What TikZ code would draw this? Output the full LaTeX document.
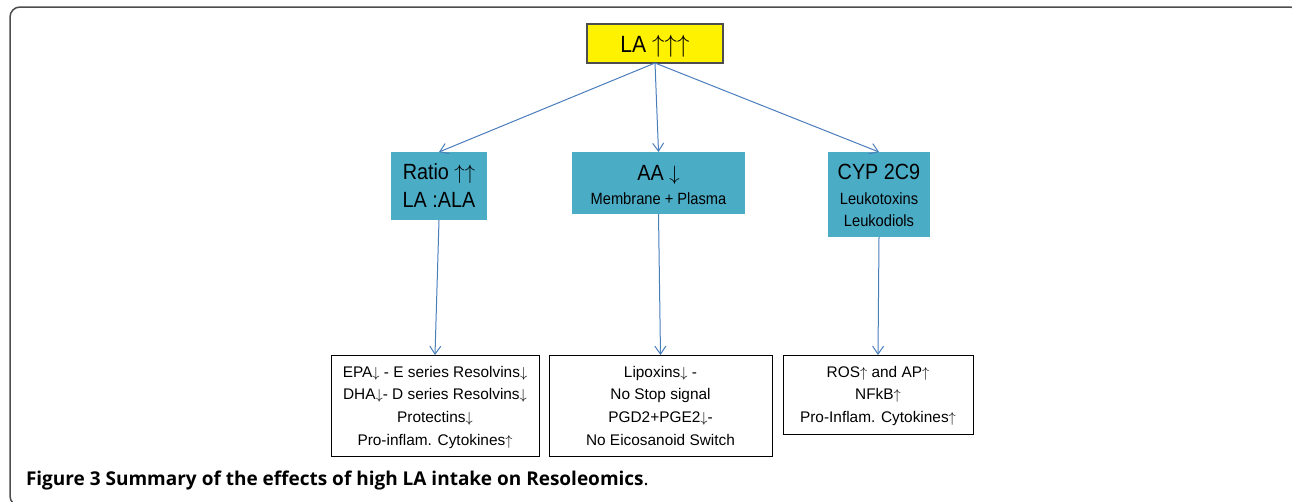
\documentclass[tikz,border=0pt]{standalone}
\usepackage{fontspec}
\usetikzlibrary{arrows.meta}
\newfontfamily\dfont[FakeStretch=0.9]{Liberation Sans}
\newfontfamily\lfont{Liberation Sans}
\newfontfamily\capfont{Open Sans}
\definecolor{tealbox}{HTML}{4BACC6}
\definecolor{arrowblue}{HTML}{4A7EBB}
\definecolor{framegray}{HTML}{4D4D4D}
\newcommand{\up}{$\uparrow$}
\newcommand{\dn}{$\downarrow$}
\tikzset{
  every node/.style={inner sep=0pt, outer sep=0pt},
  yellowbox/.style={draw=framegray, line width=1.3pt, fill=yellow},
  tbox/.style={fill=tealbox},
  wbox/.style={draw=black, line width=0.9pt, fill=white},
  bigtxt/.style={anchor=base, align=center, font=\dfont\fontsize{22}{28.3}\selectfont},
  smtxt/.style={anchor=base, align=center, font=\dfont\fontsize{16.3}{22.4}\selectfont},
  lowtxt/.style={anchor=base, align=center, font=\lfont\fontsize{15.4}{22.7}\selectfont},
  conn/.style={draw=arrowblue, line width=1pt, -{Straight Barb[length=8pt,width=11pt]}},
}
\begin{document}
\begin{tikzpicture}[x=1pt,y=-1pt]
\useasboundingbox (0,0) rectangle (1292,501);
\begin{scope}
\clip (0,0) rectangle (1292,501);
\draw[framegray, line width=1.5pt, rounded corners=10pt] (10,7) rectangle (1300,506);
\end{scope}

% boxes
\node[yellowbox, minimum width=136pt, minimum height=39pt] (la) at (655,43.5) {};
\node[tbox, minimum width=96pt, minimum height=68pt] (ratio) at (439,186) {};
\node[tbox, minimum width=173pt, minimum height=62pt] (aa) at (658.5,183) {};
\node[tbox, minimum width=102pt, minimum height=85pt] (cyp) at (879,194.5) {};
\node[wbox, minimum width=208pt, minimum height=101pt] (r1) at (435,405.5) {};
\node[wbox, minimum width=223pt, minimum height=101pt] (r2) at (660.5,405.5) {};
\node[wbox, minimum width=190pt, minimum height=79pt] (r3) at (878,394.5) {};

% texts
\node[bigtxt, font=\dfont\fontsize{23.5}{28}\selectfont] (lat) at (655,52.3) {LA \up\up\up};
\node[bigtxt] (ratiot) at (439,207.5) {Ratio \up\up\\LA :ALA};
\node[bigtxt] (aat) at (658.5,180.5) {AA \dn};
\node[smtxt] (aat2) at (658.5,204) {Membrane + Plasma};
\node[bigtxt] (cypt) at (879,179.5) {CYP 2C9};
\node[smtxt] (cypt2) at (879,226.5) {Leukotoxins\\Leukodiols};
\node[lowtxt] (r1t) at (435,445.3)
  {EPA\dn{} - E series Resolvins\dn\\DHA\dn- D series Resolvins\dn\\Protectins\dn\\Pro-inflam. Cytokines\up};
\node[lowtxt] (r2t) at (660.5,445.3)
  {Lipoxins\dn{} -\\No Stop signal\\PGD2+PGE2\dn-\\No Eicosanoid Switch};
\node[lowtxt] (r3t) at (878,422.6)
  {ROS\up{} and AP\up\\NFkB\up\\Pro-Inflam. Cytokines\up};

% connectors
\draw[conn] (la.south) -- (ratio.north);
\draw[conn] (la.south) -- (aa.north);
\draw[conn] (la.south) -- (cyp.north);
\draw[conn] (ratio.south) -- (r1.north);
\draw[conn] (aa.south) -- (r2.north);
\draw[conn] (cyp.south) -- (r3.north);

\node[anchor=base west, font=\capfont\fontsize{19}{22}\selectfont] (cap) at (26,485)
  {\textbf{Figure 3 Summary of the effects of high LA intake on Resoleomics}.};
\end{tikzpicture}
\end{document}
